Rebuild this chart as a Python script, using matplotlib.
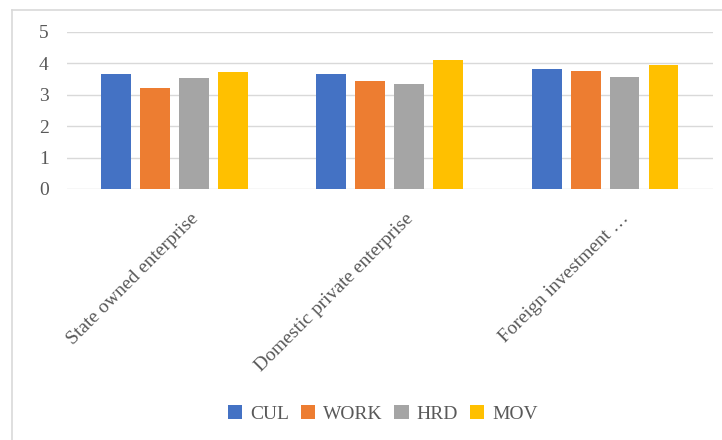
import matplotlib
matplotlib.use("Agg")
import matplotlib.pyplot as plt
import matplotlib.transforms as mtransforms
from matplotlib.lines import Line2D
import numpy as np

# data
categories = ["State owned enterprise", "Domestic private enterprise", "Foreign investment \u2026"]
series_names = ["CUL", "WORK", "HRD", "MOV"]
cul = [3.67, 3.67, 3.81]
work = [3.20, 3.44, 3.76]
hrd = [3.52, 3.33, 3.57]
mov = [3.72, 4.10, 3.94]
colors = ["#4472C4", "#ED7D31", "#A5A5A5", "#FFC000"]

TEXT = "#595959"
GRID = "#D9D9D9"
plt.rcParams["font.family"] = ["Liberation Serif", "DejaVu Serif"]

fig = plt.figure(figsize=(7.22, 4.40), dpi=100)
ax = fig.add_axes([0.0924, 0.5705, 0.8947, 0.3575])

x = np.arange(len(categories))
width = 0.139
pitch = 0.181
for i, (vals, name) in enumerate(zip([cul, work, hrd, mov], series_names)):
    ax.bar(x + (i - 1.5) * pitch, vals, width, color=colors[i], label=name, zorder=3)

ax.set_xlim(-0.5, len(categories) - 0.5)
ax.set_ylim(0, 5)
ax.set_yticks(range(0, 6))
ax.yaxis.grid(True, color=GRID, linewidth=1, zorder=0)
for s in ax.spines.values():
    s.set_visible(False)
ax.tick_params(axis="y", length=0, pad=13, labelsize=14, labelcolor=TEXT)
ax.tick_params(axis="x", length=0, pad=15, labelsize=14, labelcolor=TEXT)
ax.set_xticks(x)
ax.set_xticklabels(categories, rotation=45, ha="right", rotation_mode="anchor")
offset = mtransforms.ScaledTranslation(0.15, 0, fig.dpi_scale_trans)
for lbl in ax.get_xticklabels():
    lbl.set_transform(lbl.get_transform() + offset)

leg = fig.legend(loc="center", bbox_to_anchor=(0.53, 0.06), ncol=4, frameon=False,
                 fontsize=14, handlelength=0.75, handleheight=0.75, handletextpad=0.4,
                 columnspacing=0.6, labelcolor=TEXT)

# chart border (only left/top visible in the crop)
fig.add_artist(Line2D([12/722, 12/722], [0, 1 - 10/440], transform=fig.transFigure, color=GRID, lw=1.2))
fig.add_artist(Line2D([12/722, 1], [1 - 10/440, 1 - 10/440], transform=fig.transFigure, color=GRID, lw=1.2))

fig.savefig("out.png", dpi=100)
